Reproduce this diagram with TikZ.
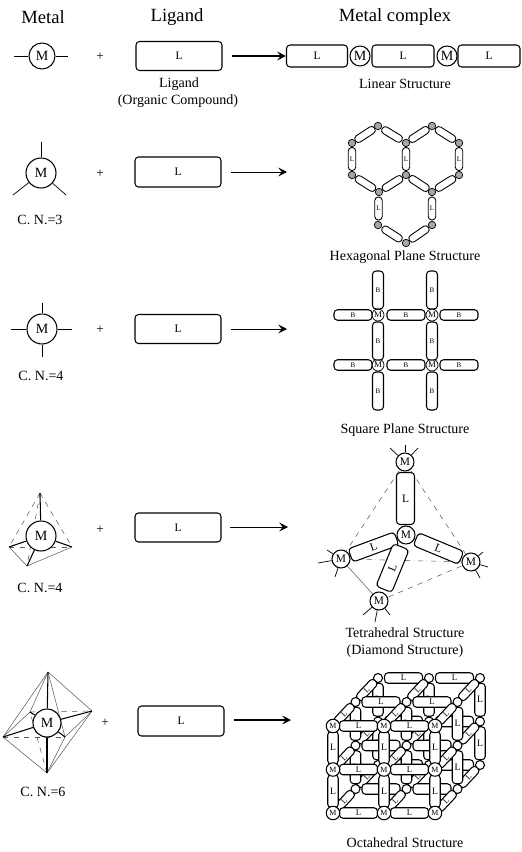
\documentclass[tikz,border=0pt]{standalone}
\usepackage{fontspec}
\setmainfont{Liberation Serif}
\usetikzlibrary{positioning,calc,arrows.meta}
\definecolor{thingray}{gray}{0.35}
\tikzset{
    metal/.style={draw,circle,fill=white,inner sep=0pt,line width=0.6pt,font=\fontsize{8}{8}\selectfont},
    ligand/.style={draw,rectangle,rounded corners=2pt,fill=white,inner sep=0pt,line width=0.6pt,font=\fontsize{6.5}{6.5}\selectfont},
    bond/.style={line width=0.6pt},
    stub/.style={line width=0.4pt},
    thinline/.style={line width=0.3pt,thingray},
    flow/.style={-{Stealth[length=5pt,width=5pt,inset=2pt]},line width=0.45pt},
    caption/.style={font=\fontsize{8}{8}\selectfont,inner sep=0pt},
    header/.style={font=\fontsize{10.6}{10.6}\selectfont,inner sep=0pt},
    plus/.style={font=\fontsize{7.5}{7.5}\selectfont,inner sep=0pt},
    tinysite/.style={metal,line width=0.4pt,font=\fontsize{3}{3}\selectfont},
}
% one layer of the cube, from the back to the front
\newcommand{\cubelayer}[3]{
    \foreach \i in {0,1,2} \foreach \j/\jj in {0/1,1/2}
        \path (s\i\j#1) -- node[ligand,minimum width=0.21cm,minimum height=0.66cm,font=\fontsize{5.5}{5.5}\selectfont] (v\i\j#1) {L} (s\i\jj#1);
    \foreach \j in {0,1,2} \foreach \i/\ii in {0/1,1/2}
        \path (s\i\j#1) -- node[ligand,minimum width=0.76cm,minimum height=0.21cm,font=\fontsize{5}{5}\selectfont] (h\i\j#1) {L} (s\ii\j#1);
    \foreach \i in {0,1,2} \foreach \j in {0,1,2}
        \node[metal,minimum size=#3,font=\fontsize{4.5}{4.5}\selectfont] (m\i\j#1) at (s\i\j#1) {#2};
}

\begin{document}
\begin{tikzpicture}[x=0.02cm,y=-0.02cm]
    \useasboundingbox (0,0) rectangle (521,852);

    % --- Headers ---
    \node[header] (headmetal) at (43,17) {Metal};
    \node[header] (headligand) at (177,17) {Ligand};
    \node[header] (headcomplex) at (395,17) {Metal complex};

    % --- Row 1: Linear ---
    \node[metal,minimum size=0.52cm] (mone) at (42,56) {M};
    \coordinate (moneW) at (14,56);
    \coordinate (moneE) at (68,56);
    \draw[stub] (mone) -- (moneW);
    \draw[stub] (mone) -- (moneE);
    \node[plus] (plusone) at (100,57) {+};
    \node[ligand,minimum width=1.72cm,minimum height=0.58cm] (lone) at (179,56) {L};
    \node[ligand,minimum width=1.22cm,minimum height=0.44cm] (chaina) at (317,56) {L};
    \node[metal,minimum size=0.4cm] (chainm) at (360,56) {M};
    \node[ligand,minimum width=1.24cm,minimum height=0.44cm] (chainb) at (403,56) {L};
    \node[metal,minimum size=0.4cm] (chainn) at (447,56) {M};
    \node[ligand,minimum width=1.24cm,minimum height=0.44cm] (chainc) at (489,56) {L};
    \coordinate (aoneS) at (232,56);
    \draw[flow,line width=0.6pt] (aoneS) -- (chaina);
    \node[caption] (capligand) at (179,84) {Ligand};
    \node[caption] (caporganic) at (178,101) {(Organic Compound)};
    \node[caption] (caplinear) at (405,84) {Linear Structure};

    % --- Row 2: Hexagonal ---
    \node[metal,minimum size=0.6cm] (mtwo) at (41,173) {M};
    \coordinate (mtwoN) at (41,142);
    \coordinate (mtwoL) at (13,195);
    \coordinate (mtwoR) at (66,195);
    \draw[stub] (mtwo) -- (mtwoN);
    \draw[stub] (mtwo) -- (mtwoL);
    \draw[stub] (mtwo) -- (mtwoR);
    \node[caption] (cntwo) at (40,220) {C. N.=3};
    \node[plus] (plustwo) at (100,174) {+};
    \node[ligand,minimum width=1.72cm,minimum height=0.6cm] (ltwo) at (178,172) {L};
    \coordinate (atwoS) at (231,172);
    \coordinate (atwoE) at (287,172);
    \draw[flow] (atwoS) -- (atwoE);
    \foreach \name/\px/\py in {a/378/126,b/352/143,c/352/175,d/379/192,e/406/175,f/406/143,g/432/126,h/459/143,i/459/175,j/432/192,k/378/225,l/432/225,m/406/243}
        \coordinate (h\name) at (\px,\py);
    \foreach \a/\b in {a/b,a/f,c/d,d/e,f/g,g/h,i/j,e/j,k/m,l/m}
        \path (h\a) -- node[ligand,sloped,line width=0.5pt,minimum width=0.46cm,minimum height=0.15cm] (bond\a\b) {} (h\b);
    \foreach \a/\b in {b/c,f/e,h/i,d/k,j/l}
        \path (h\a) -- node[ligand,line width=0.5pt,minimum width=0.15cm,minimum height=0.46cm,font=\fontsize{4}{4}\selectfont] (bond\a\b) {L} (h\b);
    \foreach \name in {a,b,c,d,e,f,g,h,i,j,k,l,m}
        \node[tinysite,minimum size=0.15cm,fill=black!35] (site\name) at (h\name) {};
    \node[caption] (caphex) at (405,257) {Hexagonal Plane Structure};

    % --- Row 3: Square ---
    \node[metal,minimum size=0.6cm] (mthree) at (42,329) {M};
    \coordinate (mthreeN) at (42,303);
    \coordinate (mthreeS) at (42,357);
    \coordinate (mthreeW) at (11,329);
    \coordinate (mthreeE) at (72,329);
    \foreach \d in {N,S,W,E}
        \draw[stub] (mthree) -- (mthree\d);
    \node[caption] (cnthree) at (41,376) {C. N.=4};
    \node[plus] (plusthree) at (100,330) {+};
    \node[ligand,minimum width=1.72cm,minimum height=0.58cm] (lthree) at (178,329) {L};
    \coordinate (athreeS) at (231,329);
    \coordinate (athreeE) at (287,329);
    \draw[flow] (athreeS) -- (athreeE);
    \foreach \name/\px/\py in {a/378/315,b/432/315,c/378/365,d/432/365}
        \node[tinysite,minimum size=0.24cm,font=\fontsize{5}{5}\selectfont] (sq\name) at (\px,\py) {M};
    \foreach \name/\px/\py in {a/353/315,b/406/315,c/459/315,d/353/365,e/406/365,f/459/365}
        \node[ligand,minimum width=0.76cm,minimum height=0.21cm,font=\fontsize{4}{4}\selectfont] (sqh\name) at (\px,\py) {B};
    \foreach \name/\px/\py in {a/378/290,b/432/290,c/378/341,d/432/341,e/378/391,f/432/391}
        \node[ligand,minimum width=0.22cm,minimum height=0.76cm,font=\fontsize{4}{4}\selectfont] (sqv\name) at (\px,\py) {B};
    \node[caption] (capsquare) at (405,430) {Square Plane Structure};

    % --- Row 4: Tetrahedral ---
    \coordinate (ta) at (40,493);
    \coordinate (tl) at (9,547);
    \coordinate (tr) at (72,547);
    \coordinate (tf) at (27,566);
    \draw[thinline,dashed] (ta) -- (tl);
    \draw[thinline,dashed] (ta) -- (tr);
    \draw[thinline,dashed] (ta) -- (tf);
    \draw[thinline,dashed] (tl) -- (tr);
    \draw[thinline] (tl) -- (tf);
    \draw[thinline] (tr) -- (tf);
    \node[metal,minimum size=0.6cm] (mfour) at (41,536) {M};
    \foreach \d in {ta,tl,tr,tf}
        \draw[bond] (mfour) -- (\d);
    \node[caption] (cnfour) at (40,588) {C. N.=4};
    \node[plus] (plusfour) at (100,530) {+};
    \node[ligand,minimum width=1.72cm,minimum height=0.58cm] (lfour) at (178,527.5) {L};
    \coordinate (afourS) at (230,527);
    \coordinate (afourE) at (288,527);
    \draw[flow] (afourS) -- (afourE);
    % big tetrahedron
    \coordinate (ttop) at (405,462);
    \coordinate (tmid) at (406,535);
    \coordinate (tleft) at (341,559);
    \coordinate (tright) at (471,562);
    \coordinate (tbot) at (379,601);
    \draw[thinline,dashed] (ttop) -- (tleft);
    \draw[thinline,dashed] (ttop) -- (tright);
    \draw[thinline,dashed] (ttop) -- (tmid);
    \draw[thinline,dash dot] (tleft) -- (tright);
    \draw[thinline] (tleft) -- (tbot);
    \draw[thinline,dashed] (tright) -- (tbot);
    \path (ttop) -- node[ligand,minimum width=0.36cm,minimum height=1.04cm] (ltop) {L} (tmid);
    \path (tmid) -- node[ligand,sloped,minimum width=0.98cm,minimum height=0.28cm] (lleft) {L} (tleft);
    \path (tmid) -- node[ligand,sloped,minimum width=0.98cm,minimum height=0.28cm] (lright) {L} (tright);
    \path (tmid) -- node[ligand,sloped,minimum width=0.92cm,minimum height=0.34cm] (lbot) {L} (tbot);
    \foreach \name in {top,mid,right,bot,left}
        \node[metal,minimum size=0.36cm,font=\fontsize{6.5}{6.5}\selectfont] (big\name) at (t\name) {M};
    \foreach \name/\px/\py in {p/405/445,q/390/448,r/418/448}
        \draw[stub] (bigtop) -- (\px,\py) coordinate (s\name);
    \foreach \name/\px/\py in {p/327/550,q/318/563,r/335/577}
        \draw[stub] (bigleft) -- (\px,\py) coordinate (u\name);
    \foreach \name/\px/\py in {p/483/552,q/488/567,r/480/578}
        \draw[stub] (bigright) -- (\px,\py) coordinate (w\name);
    \foreach \name/\px/\py in {p/363/615,q/375/622,r/390/615}
        \draw[stub] (bigbot) -- (\px,\py) coordinate (z\name);
    \node[caption] (captetra) at (405,633) {Tetrahedral Structure};
    \node[caption] (capdiamond) at (405,651) {(Diamond Structure)};

    % --- Row 5: Octahedral ---
    \coordinate (oa) at (48,672);
    \coordinate (ob) at (47,773);
    \coordinate (ol) at (3,737);
    \coordinate (or) at (92,711);
    \coordinate (obl) at (30,712);
    \coordinate (ofr) at (65,737);
    \foreach \d in {ol,or,obl,ofr}
        \draw[thinline] (oa) -- (\d);
    \draw[thinline] (ob) -- (ol);
    \draw[thinline] (ob) -- (or);
    \draw[thinline] (ob) -- (ofr);
    \draw[thinline,dashed] (ob) -- (obl);
    \draw[thinline,dashed] (ol) -- (ofr);
    \draw[thinline,dashed] (obl) -- (or);
    \draw[thinline] (ol) -- (obl);
    \draw[thinline] (or) -- (ofr);
    \node[metal,minimum size=0.56cm] (mfive) at (47,723) {M};
    \foreach \d in {oa,ob,ol,or,obl,ofr}
        \draw[bond] (mfive) -- (\d);
    \node[caption] (cnfive) at (43,792) {C. N.=6};
    \node[plus] (plusfive) at (105,723) {+};
    \node[ligand,minimum width=1.72cm,minimum height=0.6cm] (lfive) at (181,721) {L};
    \coordinate (afiveS) at (234,720);
    \coordinate (afiveE) at (291,720);
    \draw[flow,line width=0.6pt] (afiveS) -- (afiveE);
    % cube lattice
    \foreach \i in {0,1,2} \foreach \j in {0,1,2} \foreach \k in {0,1,2}
        \coordinate (s\i\j\k) at ({333+51*\i+22.5*\k},{813-43.5*\j-24*\k});
    \foreach \k/\kk in {2/1,1/0}{
        \cubelayer{\k}{}{0.18cm}
        \foreach \i in {0,1,2} \foreach \j in {0,1,2}
            \path (s\i\j\k) -- node[ligand,sloped,minimum width=0.5cm,minimum height=0.17cm,font=\fontsize{4.5}{4.5}\selectfont] (d\i\j\k) {L} (s\i\j\kk);
    }
    \cubelayer{0}{M}{0.27cm}
    \node[caption] (capocta) at (405,843) {Octahedral Structure};
\end{tikzpicture}
\end{document}
